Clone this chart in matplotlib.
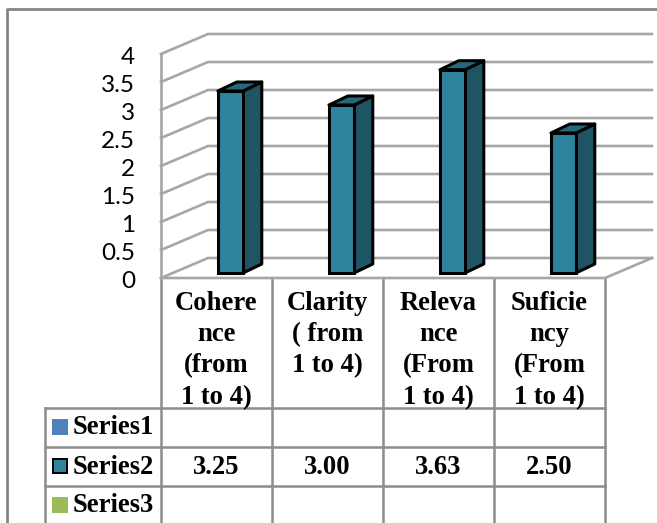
#!/usr/bin/env python3

from matplotlib import pyplot as plt
from matplotlib.patches import Polygon, Rectangle

categories = ["Cohere\nnce\n(from\n1 to 4)", "Clarity\n( from\n1 to 4)", "Releva\nnce\n(From\n1 to 4)", "Suficie\nncy\n(From\n1 to 4)"]
series_names = ["Series1", "Series2", "Series3"]
series2 = [3.25, 3.00, 3.63, 2.50]
y_ticks = [0, 0.5, 1, 1.5, 2, 2.5, 3, 3.5, 4]

FRONT = "#2E849E"
SIDE = "#1F5464"
TOP = "#26697D"
GRID = "#A6A6A6"
TABLE = "#8C8C8C"

W, H = 657, 523
fig = plt.figure(figsize=(W / 100, H / 100), dpi=100)

# overlay in pixels for the outer frame and the data table
tab = fig.add_axes([0, 0, 1, 1], xlim=(0, W), ylim=(H, 0))
tab.axis("off")
tab.plot([7, 7, W], [H, 9, 9], color="#858585", lw=2)

col_x = [161, 272, 383, 494, 605]
row_y = [408, 447, 486]
for x in col_x:
    tab.plot([x, x], [278, H], color=TABLE, lw=1.8)
tab.plot([45, 45], [408, H], color=TABLE, lw=1.8)
for y in row_y:
    tab.plot([45, 605], [y, y], color=TABLE, lw=1.8)

serif = dict(family="Liberation Serif", weight="bold", fontsize=19.2, color="black")
for i, label in enumerate(categories):
    tab.text((col_x[i] + col_x[i + 1]) / 2, 291, label, ha="center", va="top",
             linespacing=1.33, **serif)
    tab.text((col_x[i] + col_x[i + 1]) / 2, 467, f"{series2[i]:.2f}", ha="center",
             va="center", **serif)

key_colors = ["#4F81BD", FRONT, "#9BBB59"]
for y, name, c in zip(row_y, series_names, key_colors):
    edge = "black" if name == "Series2" else c
    tab.add_patch(Rectangle((53, y + 12), 14, 14, facecolor=c, edgecolor=edge, lw=1.4))
    tab.text(73, y + 20, name, ha="left", va="center", **serif)

# the chart itself, front plane of the 3D box
ax = fig.add_axes([161 / W, (H - 278) / H, 444 / W, 224 / H], xlim=(0, 4), ylim=(0, 4))
ax.axis("off")
ax.patch.set_alpha(0)

dx, dy = 47 / 111, 20 / 56  # full depth of the box in data units
for t in y_ticks:
    ax.plot([0, dx, 4 + dx], [t, t + dy, t + dy], color=GRID, lw=1.9, clip_on=False,
            solid_joinstyle="miter", zorder=1)
    tab.text(135, 281 - t * 56, str(t), ha="right", va="center", family="Lato", fontsize=17.5)
ax.plot([0, 0], [0, 4], color=GRID, lw=1.9, clip_on=False, zorder=1)
ax.plot([0, 4, 4 + dx], [0, 0, dy], color=GRID, lw=1.9, clip_on=False, zorder=1)

bar_w = 25 / 111
for i, v in enumerate(series2):
    x0 = i + 0.52 - bar_w / 2 + 0.25 * dx
    y0 = 0.25 * dy
    sx, sy = 0.4 * dx, 0.45 * dy
    style = dict(edgecolor="black", lw=2.2, joinstyle="round", clip_on=False, zorder=3)
    ax.add_patch(Polygon([(x0 + bar_w, y0), (x0 + bar_w + sx, y0 + sy),
                          (x0 + bar_w + sx, y0 + v + sy), (x0 + bar_w, y0 + v)],
                         facecolor=SIDE, **style))
    ax.add_patch(Polygon([(x0, y0 + v), (x0 + bar_w, y0 + v),
                          (x0 + bar_w + sx, y0 + v + sy), (x0 + sx, y0 + v + sy)],
                         facecolor=TOP, **style))
    ax.bar(x0, v, bar_w, bottom=y0, align="edge", color=FRONT, edgecolor="black",
           linewidth=2.2, clip_on=False, zorder=4)

fig.savefig("out.png", dpi=100)
